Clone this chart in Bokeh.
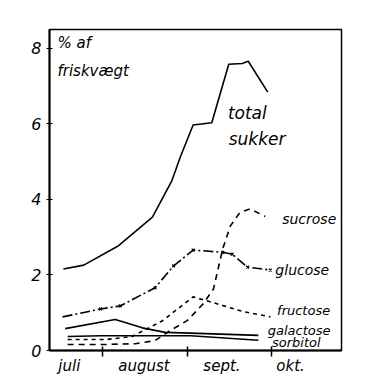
from bokeh.plotting import figure
from bokeh.models import Range1d, FixedTicker, ColumnDataSource
from bokeh.core.properties import value
from bokeh.embed import file_html
from bokeh.resources import INLINE

# x in months: 1 = 1 Aug, 2 = 1 Sep, 3 = 1 Oct
total_x = [0.54, 0.78, 1.18, 1.59, 1.82, 1.92, 2.07, 2.29, 2.49, 2.65, 2.72, 2.95]
total_y = [2.16, 2.26, 2.76, 3.53, 4.5, 5.13, 5.97, 6.03, 7.58, 7.6, 7.66, 6.84]

glucose_x = [0.53, 0.98, 1.21, 1.62, 1.84, 2.07, 2.42, 2.53, 2.71, 2.98]
glucose_y = [0.89, 1.1, 1.18, 1.66, 2.24, 2.66, 2.6, 2.55, 2.21, 2.13]

sucrose_x = [0.59, 1.04, 1.39, 1.62, 1.80, 2.0, 2.19, 2.31, 2.42, 2.51, 2.62, 2.74, 2.92]
sucrose_y = [0.16, 0.16, 0.18, 0.26, 0.53, 0.79, 1.24, 1.63, 2.7, 3.3, 3.65, 3.75, 3.55]

fructose_x = [0.59, 1.04, 1.35, 1.71, 2.07, 2.27, 2.66, 2.98]
fructose_y = [0.29, 0.29, 0.37, 0.79, 1.42, 1.29, 1.03, 0.89]

galactose_x = [0.56, 1.15, 1.24, 1.47, 1.74, 2.04, 2.84]
galactose_y = [0.58, 0.82, 0.76, 0.6, 0.48, 0.46, 0.4]

sorbitol_x = [0.59, 0.98, 2.04, 2.84]
sorbitol_y = [0.37, 0.39, 0.39, 0.27]

y_ticks = [0, 2, 4, 6, 8]
month_bounds = [1, 2, 3]
month_label_pos = [0.61, 1.49, 2.41, 3.22]
month_labels = ["juli", "august", "sept.", "okt."]

label_texts = ["% af", "friskvægt", "total", "sukker", "sucrose", "glucose", "fructose", "galactose", "sorbitol"]
label_x = [0.47, 0.47, 2.48, 2.49, 3.12, 3.04, 3.06, 2.95, 3.0]
label_y = [8.13, 7.39, 6.29, 5.6, 3.47, 2.13, 1.05, 0.53, 0.21]
label_size = ["15px", "15px", "17px", "17px", "14px", "14px", "13px", "13px", "13px"]

FONT = "DejaVu Sans"

p = figure(width=370, height=377, output_backend="svg", toolbar_location=None,
           x_range=Range1d(0.376, 3.82), y_range=Range1d(0, 8.5),
           min_border_left=49, min_border_right=29, min_border_top=29, min_border_bottom=25)
p.grid.visible = False
p.outline_line_color = "black"
p.outline_line_width = 1.5
p.background_fill_color = "white"
p.border_fill_color = "white"

# y axis
p.yaxis.ticker = FixedTicker(ticks=y_ticks, minor_ticks=[])
p.yaxis.axis_line_width = 2
p.yaxis.major_tick_in = 3
p.yaxis.major_tick_out = 3
p.yaxis.major_label_standoff = 5
p.yaxis.major_label_text_font = FONT
p.yaxis.major_label_text_font_style = "italic"
p.yaxis.major_label_text_font_size = "16px"
p.yaxis.major_label_text_color = "black"
p.yaxis.axis_line_color = "black"
p.yaxis.major_tick_line_color = "black"

# x axis: labels at month centres, ticks (minor) at month boundaries
p.xaxis.ticker = FixedTicker(ticks=month_label_pos, minor_ticks=month_bounds)
p.xaxis.major_label_overrides = {k: v for k, v in zip(month_label_pos, month_labels)}
p.xaxis.major_tick_in = 0
p.xaxis.major_tick_out = 0
p.xaxis.minor_tick_in = 4
p.xaxis.minor_tick_out = 6
p.xaxis.minor_tick_line_color = "black"
p.xaxis.minor_tick_line_width = 1.5
p.xaxis.axis_line_width = 2
p.xaxis.axis_line_color = "black"
p.xaxis.major_label_standoff = 0
p.xaxis.major_label_text_font = FONT
p.xaxis.major_label_text_font_style = "italic"
p.xaxis.major_label_text_font_size = "15px"
p.xaxis.major_label_text_color = "black"

lw = 1.6
p.line(total_x, total_y, line_color="black", line_width=lw)
p.line(glucose_x, glucose_y, line_color="black", line_width=lw, line_dash="10 3 2 3")
p.scatter(glucose_x[1:], glucose_y[1:], marker="x", size=4, line_color="black", line_width=1.2)
p.line(sucrose_x, sucrose_y, line_color="black", line_width=lw, line_dash="6 5")
p.line(fructose_x, fructose_y, line_color="black", line_width=lw, line_dash="4 4")
p.line(galactose_x, galactose_y, line_color="black", line_width=lw)
p.line(sorbitol_x, sorbitol_y, line_color="black", line_width=lw)

src = ColumnDataSource(dict(x=label_x, y=label_y, t=label_texts, s=label_size))
p.text(x="x", y="y", text="t", source=src, text_font=value(FONT), text_font_style="italic",
       text_font_size="s", text_align="left", text_baseline="middle", text_color="black")

open("out.html", "w").write(file_html(p, INLINE))
